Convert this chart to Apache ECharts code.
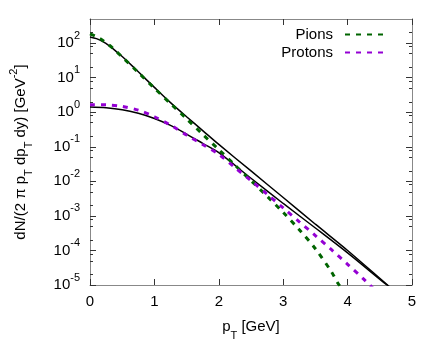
<!DOCTYPE html>
<html>
<head>
<meta charset="utf-8">
<script src="https://cdn.jsdelivr.net/npm/echarts@6/dist/echarts.min.js"></script>
<style>
  html, body { margin: 0; padding: 0; background: #fff; }
  #chart { width: 436px; height: 354px; }
</style>
</head>
<body>
<div id="chart"></div>
<script>
// values (pT in GeV, yield in GeV^-2)
const pionFitX = [0, 0.1, 0.2, 0.3, 0.4, 0.5, 0.6, 0.75, 1.0, 1.25, 1.5, 1.75, 2.0, 2.5, 3.0, 3.5, 4.0, 4.62, 4.7]
const pionFitY = [151, 135, 110, 83, 59, 41, 27.5, 14.8, 5.25, 1.9, 0.74, 0.295, 0.117, 0.020, 3.4e-3, 5.75e-4, 1.0e-4, 1.0e-5, 7.5e-6]

const protonFitX = [0, 0.25, 0.5, 0.75, 1.0, 1.25, 1.5, 1.75, 2.0, 2.5, 3.0, 3.5, 4.0, 4.61, 4.7]
const protonFitY = [1.43, 1.36, 1.19, 0.93, 0.66, 0.417, 0.234, 0.126, 0.0676, 0.0123, 2.29e-3, 4.47e-4, 8.5e-5, 1.0e-5, 7.5e-6]

const pionX = [0, 0.1, 0.2, 0.3, 0.4, 0.5, 0.75, 1.0, 1.25, 1.5, 1.75, 2.0, 2.25, 2.5, 2.75, 3.0, 3.25, 3.5, 3.75, 3.85, 4.0]
const pionY = [186, 155, 120, 87, 60, 39.8, 14.1, 5.0, 1.78, 0.646, 0.229, 0.0832, 0.0295, 0.0105, 3.7e-3, 1.26e-3, 3.98e-4, 1.12e-4, 2.4e-5, 1.12e-5, 4.5e-6]

const protonX = [0, 0.25, 0.5, 0.75, 1.0, 1.25, 1.5, 1.75, 2.0, 2.25, 2.5, 2.75, 3.0, 3.25, 3.5, 3.75, 4.0, 4.25, 4.4]
const protonY = [1.66, 1.64, 1.48, 1.15, 0.741, 0.427, 0.219, 0.117, 0.0603, 0.0251, 0.0105, 4.27e-3, 1.70e-3, 6.76e-4, 2.69e-4, 1.05e-4, 3.98e-5, 1.48e-5, 7.9e-6]

const yMajorTicks = [1e-5, 1e-4, 1e-3, 1e-2, 1e-1, 1, 10, 100]
const yMinorTicks = [2e-5, 5e-5, 8e-5, 2e-4, 5e-4, 8e-4, 2e-3, 5e-3, 8e-3, 2e-2, 5e-2, 8e-2,
  0.2, 0.5, 0.8, 2, 5, 8, 20, 50, 80, 200]

const font = 'Liberation Sans'
const borderColor = '#888'
const tickColor = '#333'

function pairs(xs, ys) {
  return xs.map((x, i) => [x, ys[i]])
}

function yAxisOf(position, ticks, length, labels) {
  return {
    type: 'log',
    position: position,
    min: 1e-5,
    max: 500,
    axisLine: { show: true, lineStyle: { color: borderColor, width: 1 } },
    axisTick: { show: true, inside: true, length: length, customValues: ticks, lineStyle: { color: tickColor } },
    splitLine: { show: false },
    minorTick: { show: false },
    axisLabel: labels ? {
      show: true,
      customValues: yMajorTicks,
      margin: 10,
      formatter: function (v) {
        const e = Math.round(Math.log10(v))
        return '{b|10}{s|' + e + '}'
      },
      rich: {
        b: { fontSize: 15, fontFamily: font, color: '#000', lineHeight: 26, verticalAlign: 'middle' },
        s: { fontSize: 11, fontFamily: font, color: '#000', lineHeight: 11, verticalAlign: 'top' }
      }
    } : { show: false }
  }
}

function xAxisOf(position, labels) {
  return {
    type: 'value',
    position: position,
    min: 0,
    max: 5,
    interval: 1,
    axisLine: { show: true, onZero: false, lineStyle: { color: borderColor, width: 1 } },
    axisTick: { show: true, inside: true, length: 6, lineStyle: { color: tickColor } },
    splitLine: { show: false },
    axisLabel: labels ? { show: true, margin: 9, fontSize: 15, fontFamily: font, color: '#000' } : { show: false }
  }
}

const chart = echarts.init(document.getElementById('chart'), null, { renderer: 'canvas' })

const xBottom = xAxisOf('bottom', true)
xBottom.name = '{a|p}{t|T}{a| [GeV]}'
xBottom.nameLocation = 'middle'
xBottom.nameGap = 34
xBottom.nameTextStyle = {
  rich: {
    a: { fontSize: 15, fontFamily: font, color: '#000', lineHeight: 22, verticalAlign: 'top' },
    t: { fontSize: 11, fontFamily: font, color: '#000', lineHeight: 11, verticalAlign: 'bottom' }
  }
}

const yLeft = yAxisOf('left', yMajorTicks, 6, true)
yLeft.name = '{a|dN/(2 π p}{t|T}{a| dp}{t|T}{a| dy) [GeV}{s|-2}{a|]}'
yLeft.nameLocation = 'middle'
yLeft.nameRotate = 90
yLeft.nameGap = 56
yLeft.nameTextStyle = {
  rich: {
    a: { fontSize: 15, fontFamily: font, color: '#000', lineHeight: 26 },
    t: { fontSize: 11, fontFamily: font, color: '#000', lineHeight: 11, verticalAlign: 'bottom' },
    s: { fontSize: 11, fontFamily: font, color: '#000', lineHeight: 11, verticalAlign: 'top' }
  }
}

chart.setOption({
  animation: false,
  backgroundColor: '#fff',
  grid: { left: 90, right: 24, top: 19, bottom: 69, containLabel: false },
  legend: {
    data: ['Pions', 'Protons'],
    orient: 'vertical',
    right: 43,
    top: 22,
    align: 'right',
    itemWidth: 42,
    itemHeight: 14,
    itemGap: 3,
    selectedMode: false,
    itemStyle: { opacity: 0 },
    textStyle: { fontSize: 15, fontFamily: font, color: '#000', padding: [0, 7, 0, 0] }
  },
  xAxis: [xBottom, xAxisOf('top', false)],
  yAxis: [
    yLeft,
    yAxisOf('left', yMinorTicks, 3, false),
    yAxisOf('right', yMajorTicks, 6, false),
    yAxisOf('right', yMinorTicks, 3, false)
  ],
  series: [
    {
      name: 'Pion fit',
      type: 'line',
      data: pairs(pionFitX, pionFitY),
      symbol: 'none',
      smooth: 0.3,
      lineStyle: { color: '#000', width: 1.5 },
      z: 2
    },
    {
      name: 'Proton fit',
      type: 'line',
      data: pairs(protonFitX, protonFitY),
      symbol: 'none',
      smooth: 0.3,
      lineStyle: { color: '#000', width: 1.5 },
      z: 2
    },
    {
      name: 'Pions',
      type: 'line',
      data: pairs(pionX, pionY),
      symbol: 'none',
      smooth: 0.3,
      itemStyle: { color: '#006400' },
      lineStyle: { color: '#006400', width: 3, type: [5, 6] },
      z: 3
    },
    {
      name: 'Protons',
      type: 'line',
      data: pairs(protonX, protonY),
      symbol: 'none',
      smooth: 0.3,
      itemStyle: { color: '#9400d3' },
      lineStyle: { color: '#9400d3', width: 3, type: [5, 6] },
      z: 3
    }
  ]
})
</script>
</body>
</html>
